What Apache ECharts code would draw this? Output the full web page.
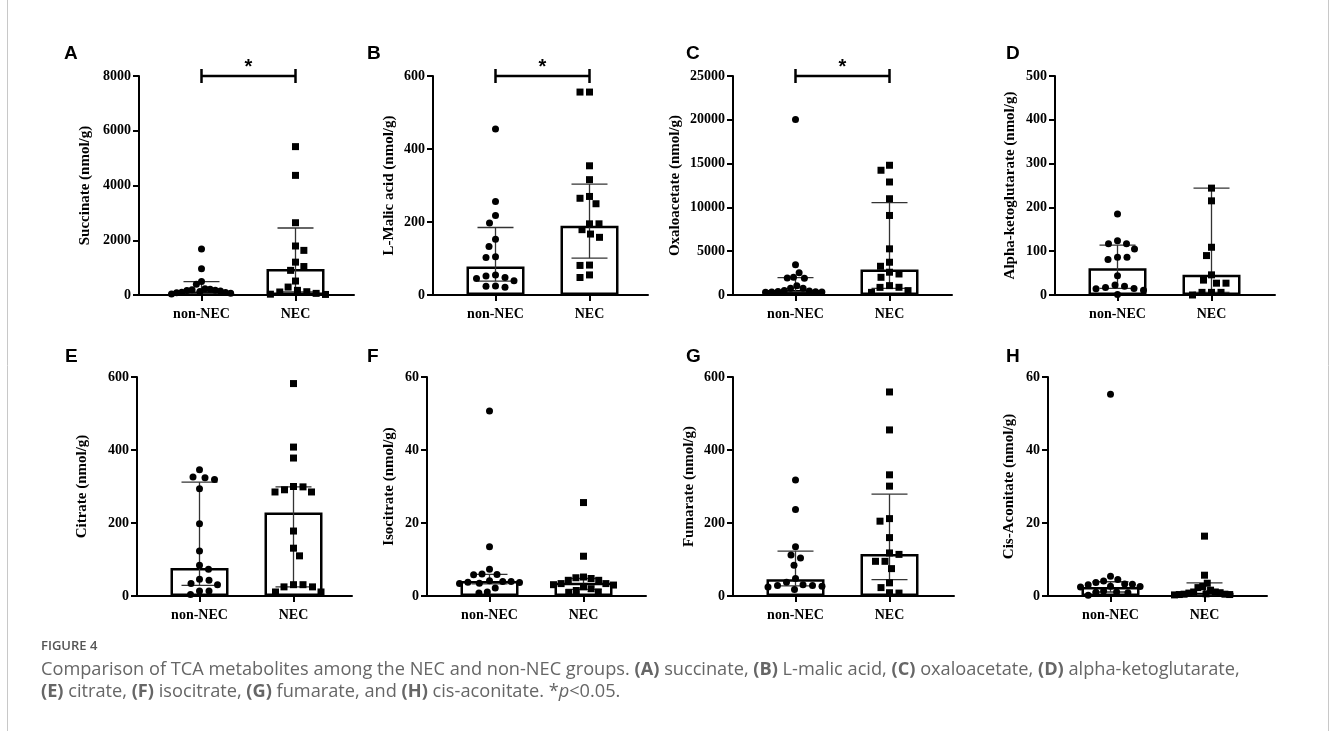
<!DOCTYPE html>
<html>
<head>
<meta charset="utf-8">
<script src="https://cdn.jsdelivr.net/npm/echarts@6/dist/echarts.min.js"></script>
<style>
  html, body { margin: 0; padding: 0; background: #fff; }
  #chart { width: 1330px; height: 731px; }
</style>
</head>
<body>
<div id="chart"></div>
<script>
// groups on the x axis
const groups = ["non-NEC", "NEC"];
const panelLetters = ["A", "B", "C", "D", "E", "F", "G", "H"];
const yNames = [
  "Succinate (nmol/g)", "L-Malic acid (nmol/g)", "Oxaloacetate (nmol/g)", "Alpha-ketoglutarate (nmol/g)",
  "Citrate (nmol/g)", "Isocitrate (nmol/g)", "Fumarate (nmol/g)", "Cis-Aconitate (nmol/g)"
];
const yMax = [8000, 600, 25000, 500, 600, 60, 600, 60];
const yStep = [2000, 200, 5000, 100, 200, 20, 200, 20];

// individual samples (nmol/g)
const succinateNon = [1680, 960, 490, 390, 230, 210, 190, 170, 160, 150, 130, 100, 90, 80, 60, 40];
const succinateNec = [5420, 4370, 2640, 1790, 1630, 1200, 1040, 900, 510, 290, 170, 120, 110, 60, 30, 20];
const malicNon = [455, 256, 218, 197, 153, 133, 105, 103, 55, 52, 48, 45, 39, 25, 24, 21];
const malicNec = [556, 556, 354, 316, 270, 265, 250, 195, 195, 179, 167, 158, 82, 81, 55, 48];
const oxaloNon = [20040, 3450, 2550, 2020, 1950, 1900, 1070, 780, 760, 500, 450, 400, 380, 350, 330, 300];
const oxaloNec = [14810, 14240, 12900, 10990, 9080, 5270, 3740, 3280, 2600, 2400, 2020, 1070, 880, 870, 500, 300];
const akgNon = [185, 124, 117, 117, 105, 86, 86, 81, 44, 23, 20, 17, 15, 14, 11, 1];
const akgNec = [244, 215, 109, 90, 46, 34, 27, 27, 6, 6, 6, 0];
const citrateNon = [346, 326, 324, 319, 294, 198, 123, 84, 73, 46, 43, 34, 31, 14, 14, 4];
const citrateNec = [582, 408, 378, 300, 299, 291, 285, 285, 178, 131, 110, 31, 31, 25, 25, 11, 11];
const isocitNon = [50.7, 13.5, 7.3, 6.0, 5.9, 5.8, 4.2, 4.0, 4.0, 3.8, 3.7, 3.5, 3.4, 2.2, 1.1, 0.8];
const isocitNec = [25.6, 10.9, 5.2, 5.0, 4.8, 4.3, 4.3, 3.4, 3.4, 3.1, 3.0, 2.5, 2.0, 1.5, 1.1, 0.9];
const fumarNon = [318, 237, 135, 112, 104, 84, 48, 38, 31, 29, 29, 27, 25, 18];
const fumarNec = [559, 455, 332, 301, 212, 205, 160, 118, 114, 95, 95, 75, 36, 23, 9, 8];
const aconNon = [55.3, 5.4, 4.5, 4.1, 3.7, 3.3, 3.2, 3.1, 2.7, 2.6, 2.5, 1.4, 1.1, 1.0, 0.9, 0.2];
const aconNec = [16.4, 5.7, 3.5, 2.6, 2.3, 1.6, 1.1, 1.1, 0.9, 0.8, 0.6, 0.5, 0.5, 0.4, 0.4, 0.3];

const pointsNon = [succinateNon, malicNon, oxaloNon, akgNon, citrateNon, isocitNon, fumarNon, aconNon];
const pointsNec = [succinateNec, malicNec, oxaloNec, akgNec, citrateNec, isocitNec, fumarNec, aconNec];

// bar height (median) and interquartile error bars
const barNon = [130, 78, 580, 61, 77, 4.1, 46, 2.5];
const barNec = [950, 190, 2900, 46, 229, 3.6, 115, 0.9];
const errLowNon = [60, 38, 380, 15, 29, 3.3, 28, 1.1];
const errHighNon = [486, 185, 1985, 114, 312, 5.9, 123, 3.9];
const errLowNec = [110, 101, 760, 6, 25, 1.8, 45, 0.4];
const errHighNec = [2447, 304, 10540, 244, 299, 4.8, 279, 3.6];

// significance brackets (*p<0.05): panel index -> bracket level
const sigPanels = [0, 1, 2];
const sigLevel = [8000, 600, 25000];

// layout
const gridLeft = [139, 433, 733, 1055, 137, 427, 733, 1048];
const gridWidth = [215, 215, 219, 220, 215, 219, 221, 219];
const rowTop = [76, 377];
const gridH = 219;
const nameGap = [46, 36, 50, 37, 47, 30, 36, 31];
const letterPos = [[64, 44], [367, 44], [686, 44], [1006, 44], [65, 347], [367, 347], [686, 347], [1006, 347]];
const catSpacing = 94;
const catOffset = 62.5;

const serif = "Liberation Serif";

// simple beeswarm: spread points sideways so they don't overlap (in px)
const swarm = (values, pxPerUnit, d, maxHalf) => {
  const order = values.map((v, i) => i).sort((a, b) => values[b] - values[a]);
  const placed = [];
  const offs = new Array(values.length).fill(0);
  order.forEach((i, n) => {
    const y = values[i] * pxPerUnit;
    const flip = n % 2 ? -1 : 1;
    let best = 0;
    for (let k = 0; k < 600; k++) {
      const dx = flip * (k % 2 === 1 ? 1 : -1) * Math.ceil(k / 2) * 0.5;
      const ok = placed.every(p => (p.x - dx) * (p.x - dx) + (p.y - y) * (p.y - y) >= d * d);
      if (ok) { best = dx; break; }
    }
    placed.push({ x: best, y: y });
    offs[i] = best;
  });
  const m = Math.max(...offs.map(Math.abs));
  const s = m > maxHalf ? maxHalf / m : 1;
  return offs.map(o => o * s);
};

const grids = [], xAxes = [], yAxes = [], series = [], titles = [];

for (let i = 0; i < 8; i++) {
  const row = i < 4 ? 0 : 1;
  grids.push({ left: gridLeft[i], top: rowTop[row], width: gridWidth[i], height: gridH });
  const xmin = -catOffset / catSpacing;
  xAxes.push({
    gridIndex: i,
    type: "value",
    min: xmin,
    max: xmin + gridWidth[i] / catSpacing,
    axisLine: { show: true, onZero: false, lineStyle: { color: "#000", width: 2 } },
    axisTick: { show: true, customValues: [0, 1], length: 6, lineStyle: { color: "#000", width: 2 } },
    axisLabel: {
      customValues: [0, 1],
      formatter: (v) => groups[Math.round(v)],
      fontFamily: serif, fontWeight: "bold", fontSize: 14, color: "#000", margin: 12
    },
    splitLine: { show: false }
  });
  yAxes.push({
    gridIndex: i,
    type: "value",
    min: 0,
    max: yMax[i],
    interval: yStep[i],
    name: yNames[i],
    nameLocation: "middle",
    nameGap: nameGap[i],
    nameTextStyle: { fontFamily: serif, fontWeight: "bold", fontSize: 15, color: "#000" },
    axisLine: { show: true, onZero: false, lineStyle: { color: "#000", width: 2 } },
    axisTick: { show: true, length: 6, lineStyle: { color: "#000", width: 2 } },
    axisLabel: {
      formatter: (v) => String(v),
      fontFamily: serif, fontWeight: "bold", fontSize: 14, color: "#000", margin: 8
    },
    splitLine: { show: false }
  });

  titles.push({
    left: letterPos[i][0], top: letterPos[i][1], padding: 0,
    text: panelLetters[i],
    textStyle: { fontFamily: "Liberation Sans", fontWeight: "bold", fontSize: 19, color: "#000" }
  });

  series.push({
    type: "bar",
    xAxisIndex: i, yAxisIndex: i,
    data: [[0, barNon[i]], [1, barNec[i]]],
    barWidth: 58,
    itemStyle: { color: "#fff", borderColor: "#000", borderWidth: 2.5 },
    silent: true, z: 1
  });

  series.push({
    type: "custom",
    xAxisIndex: i, yAxisIndex: i,
    data: [[0, errLowNon[i], errHighNon[i]], [1, errLowNec[i], errHighNec[i]]],
    renderItem: (params, api) => {
      const lo = api.coord([api.value(0), api.value(1)]);
      const hi = api.coord([api.value(0), api.value(2)]);
      const w = 18;
      const st = { stroke: "#333", lineWidth: 1.3 };
      return {
        type: "group",
        children: [
          { type: "line", shape: { x1: lo[0], y1: lo[1], x2: hi[0], y2: hi[1] }, style: st },
          { type: "line", shape: { x1: hi[0] - w, y1: hi[1], x2: hi[0] + w, y2: hi[1] }, style: st },
          { type: "line", shape: { x1: lo[0] - w, y1: lo[1], x2: lo[0] + w, y2: lo[1] }, style: st }
        ]
      };
    },
    silent: true, z: 2
  });

  const pxPerUnit = gridH / yMax[i];
  [pointsNon[i], pointsNec[i]].forEach((vals, g) => {
    const offs = swarm(vals, pxPerUnit, 9.5, 30);
    series.push({
      type: "scatter",
      xAxisIndex: i, yAxisIndex: i,
      symbol: g === 0 ? "circle" : "rect",
      symbolSize: 7,
      itemStyle: { color: "#000", opacity: 1 },
      data: vals.map((v, k) => ({ value: [g, v], symbolOffset: [offs[k], 0] })),
      silent: true, z: 3
    });
  });

  const si = sigPanels.indexOf(i);
  if (si >= 0) {
    series.push({
      type: "custom",
      xAxisIndex: i, yAxisIndex: i,
      data: [[0, 1, sigLevel[si]]],
      clip: false,
      renderItem: (params, api) => {
        const a = api.coord([api.value(0), api.value(2)]);
        const b = api.coord([api.value(1), api.value(2)]);
        const st = { stroke: "#000", lineWidth: 2.5 };
        return {
          type: "group",
          children: [
            { type: "line", shape: { x1: a[0], y1: a[1], x2: b[0], y2: b[1] }, style: st },
            { type: "line", shape: { x1: a[0], y1: a[1] - 7, x2: a[0], y2: a[1] + 7 }, style: st },
            { type: "line", shape: { x1: b[0], y1: b[1] - 7, x2: b[0], y2: b[1] + 7 }, style: st },
            {
              type: "text",
              style: {
                text: "*", x: (a[0] + b[0]) / 2, y: a[1] - 9,
                align: "center", verticalAlign: "middle",
                font: "bold 20px 'Liberation Sans'", fill: "#000"
              }
            }
          ]
        };
      },
      silent: true, z: 4
    });
  }
}

// figure caption
const capFont = "Open Sans";
titles.push({
  left: 41, top: 640, padding: 0,
  text: "FIGURE 4",
  textStyle: { fontFamily: capFont, fontSize: 13, fontWeight: 600, color: "#555" }
});
titles.push({
  left: 41, top: 659, padding: 0,
  text: "{r|Comparison of TCA metabolites among the NEC and non-NEC groups. }{b|(A)}{r| succinate, }{b|(B)}{r| L-malic acid, }{b|(C)}{r| oxaloacetate, }{b|(D)}{r| alpha-ketoglutarate,}\n" +
        "{b|(E)}{r| citrate, }{b|(F)}{r| isocitrate, }{b|(G)}{r| fumarate, and }{b|(H)}{r| cis-aconitate. *}{i|p}{r|<0.05.}",
  textStyle: {
    rich: {
      r: { fontFamily: capFont, fontSize: 18.2, fontWeight: "normal", color: "#666", lineHeight: 22 },
      b: { fontFamily: capFont, fontSize: 18.2, fontWeight: "bold", color: "#666", lineHeight: 22 },
      i: { fontFamily: capFont, fontSize: 18.2, fontWeight: "normal", fontStyle: "italic", color: "#666", lineHeight: 22 }
    }
  }
});

const chart = echarts.init(document.getElementById("chart"), null, { renderer: "canvas" });
chart.setOption({
  backgroundColor: "#fff",
  animation: false,
  title: titles,
  grid: grids,
  xAxis: xAxes,
  yAxis: yAxes,
  series: series,
  graphic: [
    { type: "line", shape: { x1: 7.5, y1: 0, x2: 7.5, y2: 731 }, style: { stroke: "#c8c8c8", lineWidth: 1 }, silent: true },
    { type: "line", shape: { x1: 1328.5, y1: 0, x2: 1328.5, y2: 731 }, style: { stroke: "#c8c8c8", lineWidth: 1 }, silent: true }
  ]
});
</script>
</body>
</html>
